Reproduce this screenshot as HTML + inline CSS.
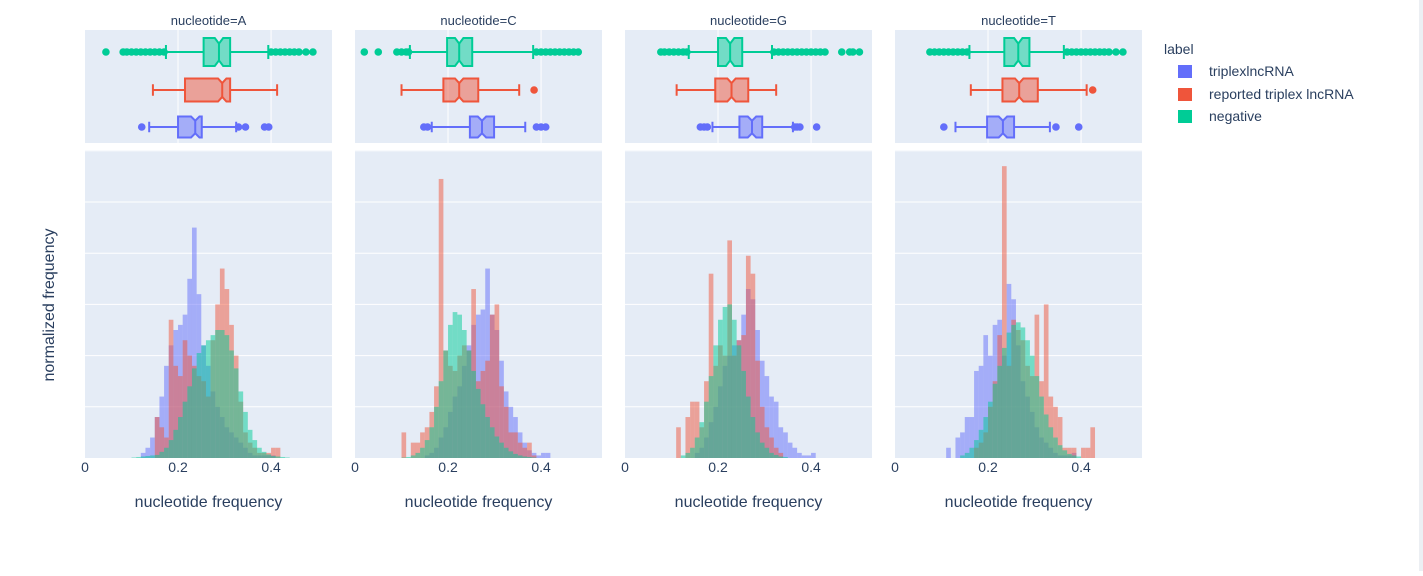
<!DOCTYPE html>
<html><head><meta charset="utf-8">
<style>
body{margin:0;background:#fff;width:1423px;height:571px;overflow:hidden;font-family:"Liberation Sans",sans-serif;}
svg text{font-family:"Liberation Sans",sans-serif;fill:#2a3f5f;}
</style></head>
<body>
<svg id="chart" width="1423" height="571" xmlns="http://www.w3.org/2000/svg">
<rect x="1419" y="0" width="4" height="571" fill="#eceff3"/>
<text x="54" y="305" font-size="16" text-anchor="middle" transform="rotate(-90 54 305)">normalized frequency</text>
<g>
<text x="1164" y="54" font-size="14">label</text>
<rect x="1178" y="65" width="14" height="13" fill="#636efa"/>
<text x="1209" y="76" font-size="14">triplexlncRNA</text>
<rect x="1178" y="88" width="14" height="13" fill="#ef553b"/>
<text x="1209" y="99" font-size="14">reported triplex lncRNA</text>
<rect x="1178" y="110" width="14" height="13" fill="#00cc96"/>
<text x="1209" y="121" font-size="14">negative</text>
</g>
</svg>
<script>
const panels = ["A","C","G","T"];
const binWidth = 0.01;
// histogram start bins and heights (grid units)
const blueStart = [0.12, 0.15, 0.15, 0.11];
const blueA = [0.1,0.2,0.4,0.8,1.2,1.8,2.2,2.5,2.6,2.8,3.5,4.5,3.2,2.2,1.8,1.3,1.0,0.8,0.6,0.5,0.4,0.3,0.2,0.1,0.05,0.05,0.05,0.05,0.05];
const blueC = [0.05,0.1,0.2,0.4,0.6,0.9,1.2,1.4,1.8,2.2,2.6,2.8,2.9,3.7,2.8,2.5,1.9,1.3,1.0,0.8,0.5,0.3,0.15,0.1,0.05,0.1,0.1];
const blueG = [0.1,0.2,0.4,0.7,1.0,1.4,1.8,2.0,2.2,2.3,2.8,3.3,3.1,2.5,1.9,1.6,1.2,1.1,0.6,0.5,0.3,0.2,0.1,0.05,0.05,0.1];
const blueT = [0.2,0,0.4,0.5,0.8,0.8,1.7,1.8,2.4,2.0,2.6,2.7,2.0,3.4,3.1,2.2,1.5,1.2,0.9,0.6,0.4,0.3,0.2,0.1,0.05,0.05,0.05,0.1];
const redStart = [0.15, 0.10, 0.11, 0.17];
const redA = [0.8,0.6,0.4,2.7,1.8,1.6,2.3,2.0,1.8,1.6,1.5,1.2,2.3,3.0,3.7,3.3,2.6,2.0,1.1,0.5,0.3,0.2,0.1,0.1,0.1,0.2,0.2];
const redC = [0.5,0,0.3,0.3,0.5,0.6,0.9,1.4,5.45,2.1,1.8,1.7,2.0,2.2,2.1,3.3,1.5,1.7,1.9,2.8,3.0,1.4,1.0,0.5,0.5,0.3,0.2,0.3,0.05];
const redG = [0.6,0,0.8,1.1,1.1,0.6,1.5,3.6,1.8,2.2,2.0,4.25,2.0,2.3,2.4,3.95,3.6,1.9,1.0,0.6,0.4,0.2,0.1];
const redT = [0.2,0.3,0.5,1.0,1.5,2.4,5.7,1.8,2.7,2.5,2.3,1.8,1.6,2.8,1.5,3.0,1.2,1.0,0.8,0.2,0.2,0.2,0,0.2,0.2,0.6];
const greenStart = [0.10, 0.10, 0.12, 0.14];
const greenA = [0.01,0.02,0.03,0.04,0.05,0.06,0.12,0.2,0.35,0.55,0.8,1.1,1.4,1.75,2.05,2.2,2.3,2.4,2.5,2.5,2.4,2.1,1.75,1.3,0.9,0.55,0.35,0.2,0.12,0.07,0.04,0.03,0.02,0.01];
const greenC = [0.01,0.02,0.05,0.1,0.2,0.35,0.6,1.0,1.5,2.1,2.6,2.85,2.8,2.5,2.1,1.7,1.35,1.05,0.8,0.6,0.42,0.3,0.2,0.13,0.08,0.05,0.03,0.02,0.01];
const greenG = [0.05,0.1,0.2,0.4,0.7,1.1,1.6,2.2,2.7,2.95,3.0,2.7,2.2,1.7,1.2,0.8,0.5,0.3,0.2,0.1,0.06,0.03,0.02];
const greenT = [0.05,0.1,0.2,0.35,0.55,0.8,1.1,1.45,1.8,2.15,2.45,2.6,2.65,2.55,2.3,2.0,1.6,1.2,0.85,0.6,0.4,0.25,0.15,0.08,0.05,0.03];
// box stats: [whiskerLo, q1, median, q3, whiskerHi]
const boxBlue = [[0.138,0.2,0.237,0.251,0.325],[0.165,0.247,0.273,0.299,0.366],[0.188,0.246,0.273,0.295,0.361],[0.13,0.198,0.232,0.256,0.333]];
const boxRed = [[0.146,0.215,0.295,0.312,0.413],[0.10,0.19,0.224,0.265,0.353],[0.111,0.194,0.229,0.265,0.325],[0.163,0.231,0.267,0.307,0.412]];
const boxGreen = [[0.174,0.255,0.288,0.312,0.394],[0.118,0.198,0.224,0.252,0.383],[0.137,0.2,0.226,0.252,0.316],[0.16,0.235,0.265,0.289,0.363]];
const outBlue = [[0.122,0.33,0.345,0.386,0.395],[0.148,0.156,0.39,0.40,0.41],[0.162,0.17,0.177,0.365,0.37,0.376,0.412],[0.105,0.346,0.395]];
const outRed = [[],[0.385],[],[0.425]];
const outGreen = [
 [0.045,0.082,0.09,0.1,0.11,0.12,0.13,0.14,0.15,0.16,0.17,0.40,0.41,0.42,0.43,0.44,0.45,0.46,0.475,0.49],
 [0.02,0.05,0.09,0.1,0.11,0.115,0.39,0.40,0.41,0.42,0.43,0.44,0.45,0.46,0.47,0.48],
 [0.077,0.085,0.095,0.105,0.115,0.125,0.133,0.32,0.33,0.34,0.35,0.36,0.37,0.38,0.39,0.40,0.41,0.42,0.43,0.466,0.483,0.49,0.504],
 [0.075,0.085,0.095,0.105,0.115,0.125,0.135,0.145,0.155,0.37,0.38,0.39,0.40,0.41,0.42,0.43,0.44,0.45,0.46,0.475,0.49]];

const NS="http://www.w3.org/2000/svg";
const svg=document.getElementById('chart');
const panelX=[85,355,625,895], panelW=247, xMax=0.531;
const boxTop=30, boxBot=143, histTop=150, histBot=458, unitPx=51.2;
function mk(tag,attrs,parent){const e=document.createElementNS(NS,tag);for(const k in attrs)e.setAttribute(k,attrs[k]);(parent||svg).appendChild(e);return e;}
const blueH=[blueA,blueC,blueG,blueT], redH=[redA,redC,redG,redT], greenH=[greenA,greenC,greenG,greenT];
const colors={blue:"#636efa",red:"#ef553b",green:"#00cc96"};

panels.forEach((p,i)=>{
  const x0=panelX[i];
  const xs=v=>x0+v/xMax*panelW;
  const ys=v=>histBot-v*unitPx;
  const g=mk('g',{});
  
  
  const bb=mk('rect',{x:x0,y:boxTop,width:panelW,height:boxBot-boxTop,fill:'#e5ecf6'},g);
  
  
  const hb=mk('rect',{x:x0,y:histTop,width:panelW,height:histBot-histTop,fill:'#e5ecf6'},g);
  
  
  [0.2,0.4].forEach(t=>{mk('line',{x1:xs(t),x2:xs(t),y1:boxTop,y2:boxBot,stroke:'#fff','stroke-width':1},g);});
  for(let k=1;k<=6;k++){const y=ys(k);if(y>histTop)mk('line',{x1:x0,x2:x0+panelW,y1:y,y2:y,stroke:'#fff','stroke-width':1},g);}
  [['blue',blueH[i],blueStart[i]],['red',redH[i],redStart[i]],['green',greenH[i],greenStart[i]]].forEach(([c,arr,st])=>{
    arr.forEach((h,j)=>{
      if(h<=0)return;
      const a=st+j*binWidth;
      const r=mk('rect',{x:xs(a),y:ys(h),width:xs(a+binWidth)-xs(a),height:h*unitPx,fill:colors[c],'fill-opacity':0.5},g);
      
      
    });
  });
  [['green',boxGreen[i],outGreen[i],52,28],['red',boxRed[i],outRed[i],90,23],['blue',boxBlue[i],outBlue[i],127,21]].forEach(([c,b,outs,cy,h])=>{
    const bg=mk('g',{},g);
    
    
    const col=colors[c];
    mk('line',{x1:xs(b[0]),x2:xs(b[1]),y1:cy,y2:cy,stroke:col,'stroke-width':2},bg);
    mk('line',{x1:xs(b[3]),x2:xs(b[4]),y1:cy,y2:cy,stroke:col,'stroke-width':2},bg);
    mk('line',{x1:xs(b[0]),x2:xs(b[0]),y1:cy-h/4,y2:cy+h/4,stroke:col,'stroke-width':2},bg);
    mk('line',{x1:xs(b[4]),x2:xs(b[4]),y1:cy-h/4,y2:cy+h/4,stroke:col,'stroke-width':2},bg);
    const n=Math.min(0.009,(b[2]-b[1])*0.7,(b[3]-b[2])*0.7);
    const t=cy-h/2,bt=cy+h/2,ni=h*0.2;
    const pts=[[xs(b[1]),t],[xs(b[2]-n),t],[xs(b[2]),t+ni],[xs(b[2]+n),t],[xs(b[3]),t],[xs(b[3]),bt],[xs(b[2]+n),bt],[xs(b[2]),bt-ni],[xs(b[2]-n),bt],[xs(b[1]),bt]];
    mk('polygon',{points:pts.map(q=>q.join(',')).join(' '),fill:col,'fill-opacity':0.5,stroke:col,'stroke-width':2},bg);
    mk('line',{x1:xs(b[2]),x2:xs(b[2]),y1:t+ni,y2:bt-ni,stroke:col,'stroke-width':2},bg);
    outs.forEach(v=>{
      const o=mk('circle',{cx:xs(v),cy:cy,r:3.8,fill:col},bg);
      
      
    });
  });
  const ft=mk('text',{x:x0+panelW/2,y:25,'font-size':13,'text-anchor':'middle'},g);
  ft.textContent='nucleotide='+p;
  
  
  [0,0.2,0.4].forEach(v=>{
    const tl=mk('text',{x:xs(v),y:472,'font-size':14,'text-anchor':'middle'},g);
    tl.textContent=v===0?'0':String(v);
    
    
  });
  const xt=mk('text',{x:x0+panelW/2,y:507,'font-size':16,'text-anchor':'middle'},g);
  xt.textContent='nucleotide frequency';
  
  
});
</script>
</body></html>
